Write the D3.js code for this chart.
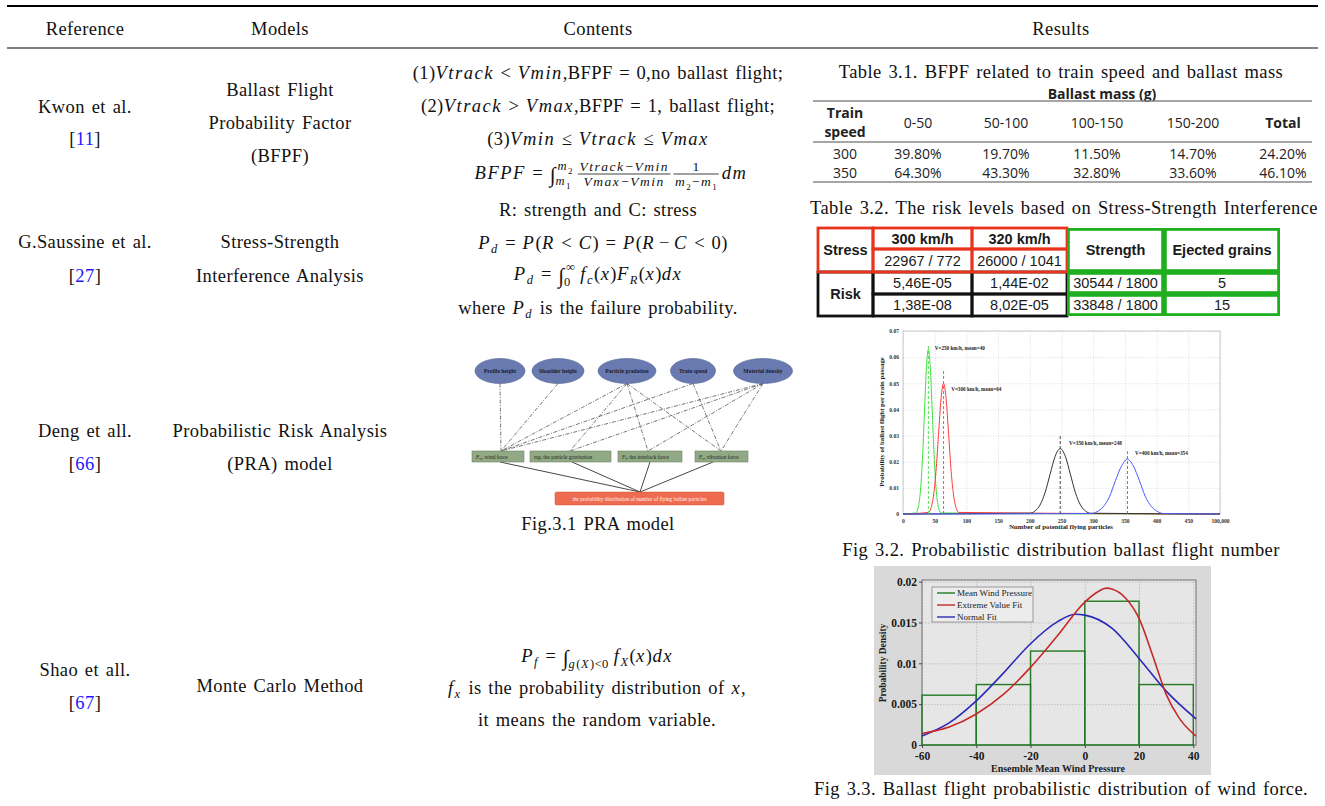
<!DOCTYPE html>
<html><head><meta charset="utf-8">
<script src="https://cdn.jsdelivr.net/npm/d3@7"></script>
<style>body{margin:0;background:#fff}svg{display:block}text{white-space:pre}</style>
</head><body>
<svg id="c" width="1325" height="806"></svg>
<script>
// ===================== DATA =====================
const headers = ["Reference", "Models", "Contents", "Results"];
const refNames = ["Kwon et al.", "G.Saussine et al.", "Deng et all.", "Shao et all."];
const refNumbers = ["11", "27", "66", "67"];
const modelLines = [["Ballast Flight", "Probability Factor", "(BFPF)"], ["Stress-Strength", "Interference Analysis"], ["Probabilistic Risk Analysis", "(PRA) model"], ["Monte Carlo Method"]];
const captions = ["Table 3.1. BFPF related to train speed and ballast mass", "Table 3.2. The risk levels based on Stress-Strength Interference", "Fig.3.1 PRA model", "Fig 3.2. Probabilistic distribution ballast flight number", "Fig 3.3. Ballast flight probabilistic distribution of wind force."];

const t31Title = "Ballast mass (g)";
const t31RowHead = ["Train", "speed"];
const t31Columns = ["0-50", "50-100", "100-150", "150-200", "Total"];
const t31Speeds = ["300", "350"];
const t31Values = [["39.80%", "19.70%", "11.50%", "14.70%", "24.20%"], ["64.30%", "43.30%", "32.80%", "33.60%", "46.10%"]];

const t32Speeds = ["300 km/h", "320 km/h"];
const t32Stress = ["22967 / 772", "26000 / 1041"];
const t32Risk = [["5,46E-05", "1,44E-02"], ["1,38E-08", "8,02E-05"]];
const t32Strength = ["30544 / 1800", "33848 / 1800"];
const t32Ejected = ["5", "15"];

const praFactors = ["Profile height", "Shoulder height", "Particle gradation", "Train speed", "Material density"];
const praForces = [["F", "w", ", wind force"], ["mg", "", ", the particle gravitation"], ["F", "I", ", the interlock force"], ["F", "v", ", vibration force"]];
const praLinks = [[0, 0], [1, 0], [2, 0], [2, 1], [2, 2], [2, 3], [3, 0], [3, 3], [4, 0], [4, 1], [4, 2], [4, 3]];
const praOutcome = "the probability distribution of number of flying ballast particles";

const f32XTicks = [0, 50, 100, 150, 200, 250, 300, 350, 400, 450, 500];
const f32XTickLabels = ["0", "50", "100", "150", "200", "250", "300", "350", "400", "450", "100,000"];
const f32YTicks = [0, 0.01, 0.02, 0.03, 0.04, 0.05, 0.06, 0.07];
const f32Green = [[0,0],[20,0.0004],[24,0.0025],[28,0.0103],[31,0.0227],[34,0.040],[37,0.0563],[40,0.063],[43,0.0563],[46,0.040],[49,0.0227],[52,0.0103],[56,0.0025],[60,0.0004],[500,0]];
const f32Red = [[0,0],[40,0.0006],[44,0.0022],[48,0.0068],[52,0.0162],[56,0.0303],[60,0.0441],[64,0.050],[68,0.0441],[72,0.0303],[76,0.0162],[80,0.0068],[84,0.0022],[88,0.0006],[500,0]];
const f32Black = [[0,0],[200,0.0003],[208,0.0011],[216,0.0034],[224,0.0081],[232,0.0152],[240,0.0221],[248,0.025],[256,0.0221],[264,0.0152],[272,0.0081],[280,0.0034],[288,0.0011],[296,0.0003],[500,0]];
const f32Blue = [[0,0],[298,0.0002],[306,0.0009],[316,0.0028],[326,0.0068],[335,0.0127],[345,0.0185],[354,0.021],[363,0.0185],[373,0.0127],[382,0.0068],[392,0.0028],[402,0.0009],[410,0.0002],[500,0]];
const f32Labels = ["V=250 km/h, mean=40", "V=300 km/h, mean=64", "V=350 km/h, mean=248", "V=400 km/h, mean=354"];
const f32Means = [40, 64, 248, 354];
const f32MeanLineTop = [0.065, 0.055, 0.030, 0.024];
const f32LabelAt = [[50, 0.0635], [76, 0.048], [262, 0.0272], [366, 0.0233]];
const f32XLabel = "Number of potential flying particles";
const f32YLabel = "Probability of ballast flight per train passage";

const f33BinEdges = [-60, -40, -20, 0, 20, 40];
const f33Hist = [0.0061, 0.0074, 0.0115, 0.0176, 0.0074];
const f33Extreme = [[-60,0.0014],[-50,0.0022],[-40,0.0038],[-30,0.0062],[-20,0.0095],[-10,0.0134],[0,0.0175],[5,0.0188],[8,0.0192],[10,0.0191],[15,0.0180],[20,0.0155],[25,0.0110],[30,0.0062],[35,0.0032],[41,0.0011]];
const f33Normal = [[-60,0.0011],[-50,0.0027],[-40,0.0054],[-30,0.0088],[-20,0.0124],[-10,0.0151],[-3.5,0.0160],[0,0.0159],[10,0.0143],[20,0.0106],[30,0.0066],[41,0.0032]];
const f33XTicks = [-60, -40, -20, 0, 20, 40];
const f33YTicks = [0, 0.005, 0.01, 0.015, 0.02];
const f33YTickLabels = ["0", "0.005", "0.01", "0.015", "0.02"];
const f33Legend = ["Mean Wind Pressure", "Extreme Value Fit", "Normal Fit"];
const f33XLabel = "Ensemble Mean Wind Pressure";
const f33YLabel = "Probability Density";

// ===================== DRAWING =====================
const svg = d3.select("#c");
const SERIF = "'Liberation Serif','Times New Roman',serif";
const OPEN = "'Open Sans','Liberation Sans',sans-serif";
const ARIAL = "'Liberation Sans',Arial,sans-serif";
const FS = 18.5;

function txt(p, x, y, s, o = {}) {
  const t = p.append("text").attr("x", x).attr("y", y).text(s)
    .attr("font-family", o.ff || SERIF).attr("font-size", o.fs || FS)
    .attr("font-weight", o.fw || "normal").attr("font-style", o.it ? "italic" : "normal")
    .attr("text-anchor", o.a || "middle").attr("fill", o.fill || "#111");
  if (o.doc) t.attr("letter-spacing", 0.4).attr("word-spacing", 1.8);
  return t;
}
const D = { doc: true };

// rules
svg.append("line").attr("x1", 7).attr("x2", 1318).attr("y1", 6).attr("y2", 6).attr("stroke", "#000").attr("stroke-width", 1.8);
svg.append("line").attr("x1", 7).attr("x2", 1318).attr("y1", 48).attr("y2", 48).attr("stroke", "#000").attr("stroke-width", 1.1);

const colX = [85, 280, 598, 1061];
headers.forEach((h, i) => txt(svg, colX[i], 35, h, D));

const refBase = [[113, 145], [248, 282], [437, 470], [676, 709]];
refNames.forEach((n, i) => {
  txt(svg, colX[0], refBase[i][0], n, D);
  const t = txt(svg, colX[0], refBase[i][1], "", D);
  t.append("tspan").text("[");
  t.append("tspan").attr("fill", "#1a1aff").text(refNumbers[i]);
  t.append("tspan").text("]");
});
const modelBase = [[96, 129, 162], [248, 282], [437, 470], [692]];
modelLines.forEach((ls, i) => ls.forEach((l, j) => txt(svg, colX[1], modelBase[i][j], l, D)));

// ---------- math layout ----------
const R = (t, o = {}) => Object.assign({ k: "t", t }, o);
const I = (t, o = {}) => Object.assign({ k: "t", t, i: true }, o);
const SUB = (t, it, sz = 12.5) => ({ k: "t", t, i: it, sz, dy: 4 });
const SP = w => ({ k: "sp", w });

function renderItems(g, items, size) {
  let x = 0;
  for (const it of items) {
    if (it.k === "sp") { x += it.w; continue; }
    if (it.k === "t") {
      const t = g.append("text").attr("x", x).attr("y", it.dy || 0).text(it.t)
        .attr("font-family", SERIF).attr("font-size", it.sz || size)
        .attr("font-style", it.i ? "italic" : "normal").attr("fill", "#111")
        .attr("letter-spacing", it.i ? 1.5 : 0.4).attr("word-spacing", 1.8);
      x += t.node().getComputedTextLength() + (it.after || 0);
      continue;
    }
    if (it.k === "frac") {
      const ng = g.append("g"), dg = g.append("g");
      const wn = renderItems(ng, it.num, it.sz), wd = renderItems(dg, it.den, it.sz);
      const w = Math.max(wn, wd) + 3;
      ng.attr("transform", `translate(${x + (w - wn) / 2},-8.5)`);
      dg.attr("transform", `translate(${x + (w - wd) / 2},6.5)`);
      g.append("line").attr("x1", x).attr("x2", x + w).attr("y1", -5).attr("y2", -5).attr("stroke", "#111").attr("stroke-width", 0.8);
      x += w + 3;
      continue;
    }
    if (it.k === "int") {
      const t = g.append("text").attr("x", x).attr("y", 3).text("∫").attr("font-family", SERIF)
        .attr("font-size", size * 1.15).attr("fill", "#111");
      const wI = t.node().getComputedTextLength();
      const hg = g.append("g"), lg = g.append("g");
      const wh = it.hi ? renderItems(hg, it.hi, 12.5) : 0;
      const wl = it.lo ? renderItems(lg, it.lo, 12.5) : 0;
      hg.attr("transform", `translate(${x + wI + 2},-9)`);
      lg.attr("transform", `translate(${x + wI},6)`);
      x += wI + Math.max(wh + 2, wl) + 5;
    }
  }
  return x;
}
function mathRow(cx, y, items, size = FS) {
  const g = svg.append("g");
  const w = renderItems(g, items, size);
  g.attr("transform", `translate(${cx - w / 2},${y})`);
}
const cC = 598, S = 6.5;
mathRow(cC, 79, [R("(1)"), I("Vtrack"), SP(S), R("<"), SP(S), I("Vmin"), R(",BFPF"), SP(S), R("="), SP(S), R("0,no ballast flight;")]);
mathRow(cC, 112, [R("(2)"), I("Vtrack"), SP(S), R(">"), SP(S), I("Vmax"), R(",BFPF"), SP(S), R("="), SP(S), R("1, ballast flight;")]);
mathRow(cC, 145, [R("(3)"), I("Vmin"), SP(S), R("≤"), SP(S), I("Vtrack"), SP(S), R("≤"), SP(S), I("Vmax")]);
mathRow(611, 179, [I("BFPF"), SP(S), R("="), SP(S),
  { k: "int", hi: [I("m"), SUB("2", false, 9)], lo: [I("m"), SUB("1", false, 9)] },
  { k: "frac", sz: 13.5, num: [I("Vtrack"), SP(1), R("−"), SP(1), I("Vmin")], den: [I("Vmax"), SP(1), R("−"), SP(1), I("Vmin")] },
  { k: "frac", sz: 13.5, num: [R("1")], den: [I("m"), SUB("2", false, 9), SP(1), R("−"), SP(1), I("m"), SUB("1", false, 9)] },
  I("dm")]);
mathRow(cC, 216, [R("R: strength and C: stress")]);
mathRow(603, 249, [I("P"), SUB("d", true), SP(S), R("="), SP(S), I("P"), R("("), I("R"), SP(S), R("<"), SP(S), I("C"), R(")"), SP(S), R("="), SP(S), I("P"), R("("), I("R"), SP(4), R("−"), SP(4), I("C"), SP(S), R("<"), SP(S), R("0)")]);
mathRow(cC, 280, [I("P"), SUB("d", true), SP(S), R("="), SP(S), { k: "int", hi: [R("∞")], lo: [R("0")] }, I("f"), SUB("c", true), R("("), I("x"), R(")"), I("F"), SUB("R", true), R("("), I("x"), R(")"), I("dx")]);
mathRow(cC, 314, [R("where "), I("P"), SUB("d", true), R(" is the failure probability.")]);
mathRow(597, 662, [I("P"), SUB("f", true), SP(S), R("="), SP(S), { k: "int", lo: [I("g"), R("("), I("X"), R(")<0")] }, I("f"), SUB("X", true), R("("), I("x"), R(")"), I("dx")]);
mathRow(597, 694, [I("f"), SUB("x", true), R(" is the probability distribution of "), I("x"), R(",")]);
mathRow(597, 726, [R("it means the random variable.")]);

// captions
txt(svg, 1061, 78, captions[0], D);
txt(svg, 1064, 214, captions[1], D);
txt(svg, 598, 530, captions[2], D);
txt(svg, 1061, 556, captions[3], D);
txt(svg, 1061, 795, captions[4], D);

// ---------- Table 3.1 ----------
const t31 = svg.append("g");
const t31X = [918, 1006, 1097, 1193, 1283], t31First = 845;
const O = { ff: OPEN, fs: 14, fill: "#222" }, OB = Object.assign({}, O, { fw: "bold" });
txt(t31, 1102, 99, t31Title, OB);
[101, 142, 182].forEach(y => t31.append("line").attr("x1", 813).attr("x2", 1312).attr("y1", y).attr("y2", y).attr("stroke", "#888").attr("stroke-width", 1.5));
txt(t31, t31First, 118, t31RowHead[0], OB);
txt(t31, t31First, 137, t31RowHead[1], OB);
t31Columns.forEach((c, i) => txt(t31, t31X[i], 128, c, i === 4 ? OB : O));
t31Speeds.forEach((s, r) => {
  const y = [159, 178][r];
  txt(t31, t31First, y, s, O);
  t31Values[r].forEach((v, i) => txt(t31, t31X[i], y, v, O));
});

// ---------- Table 3.2 ----------
const t32 = svg.append("g");
const cx = [818, 873, 972, 1067, 1164, 1280], ry = [228, 249, 272, 294, 316];
function cell(c0, c1, r0, r1, col, inset = 0) {
  t32.append("rect").attr("x", cx[c0] + inset).attr("y", ry[r0] + inset)
    .attr("width", cx[c1] - cx[c0] - 2 * inset).attr("height", ry[r1] - ry[r0] - 2 * inset)
    .attr("fill", "none").attr("stroke", col).attr("stroke-width", 2.8);
}
cell(0, 1, 2, 4, "#111"); cell(1, 2, 2, 3, "#111"); cell(2, 3, 2, 3, "#111"); cell(1, 2, 3, 4, "#111"); cell(2, 3, 3, 4, "#111");
cell(0, 1, 0, 2, "#e8341c"); cell(1, 2, 0, 1, "#e8341c"); cell(2, 3, 0, 1, "#e8341c"); cell(1, 2, 1, 2, "#e8341c"); cell(2, 3, 1, 2, "#e8341c");
cell(3, 4, 0, 2, "#1fae1f", 1.4); cell(4, 5, 0, 2, "#1fae1f", 1.4);
cell(3, 4, 2, 3, "#1fae1f", 1.4); cell(4, 5, 2, 3, "#1fae1f", 1.4); cell(3, 4, 3, 4, "#1fae1f", 1.4); cell(4, 5, 3, 4, "#1fae1f", 1.4);
const mid = (a, b) => (a + b) / 2;
const A = { ff: ARIAL, fs: 14.5, fill: "#1a1a1a" }, AB = Object.assign({}, A, { fw: "bold" });
txt(t32, mid(cx[0], cx[1]), mid(ry[0], ry[2]) + 5, "Stress", AB);
t32Speeds.forEach((s, i) => txt(t32, mid(cx[i + 1], cx[i + 2]), mid(ry[0], ry[1]) + 5, s, AB));
t32Stress.forEach((s, i) => txt(t32, mid(cx[i + 1], cx[i + 2]), mid(ry[1], ry[2]) + 5, s, A));
txt(t32, mid(cx[3], cx[4]), mid(ry[0], ry[2]) + 5, "Strength", AB);
txt(t32, mid(cx[4], cx[5]), mid(ry[0], ry[2]) + 5, "Ejected grains", AB);
txt(t32, mid(cx[0], cx[1]), mid(ry[2], ry[4]) + 5, "Risk", AB);
t32Risk.forEach((row, r) => row.forEach((v, i) => txt(t32, mid(cx[i + 1], cx[i + 2]), mid(ry[r + 2], ry[r + 3]) + 5, v, A)));
t32Strength.forEach((v, r) => txt(t32, mid(cx[3], cx[4]), mid(ry[r + 2], ry[r + 3]) + 5, v, A));
t32Ejected.forEach((v, r) => txt(t32, mid(cx[4], cx[5]), mid(ry[r + 2], ry[r + 3]) + 5, v, A));

// ---------- PRA diagram ----------
const pra = svg.append("g");
const ex = [500, 558, 627, 693, 763], erx = [25, 26, 29, 22.5, 29.5], ey = 371, ery = 12.5;
const fx0 = [472, 530, 618, 695], fx1 = [524, 611, 682, 748], fy0 = 451, fy1 = 462;
const fTop = [501, 570, 648, 721], fBot = [500, 572, 650, 713];
praLinks.forEach(([a, b]) => pra.append("line").attr("x1", ex[a]).attr("y1", ey + ery).attr("x2", fTop[b]).attr("y2", fy0)
  .attr("stroke", "#555").attr("stroke-width", 0.8).attr("stroke-dasharray", "4,1.5,1,1.5"));
fBot.forEach(x => pra.append("line").attr("x1", x).attr("y1", fy1).attr("x2", 640).attr("y2", 492).attr("stroke", "#333").attr("stroke-width", 0.9));
praFactors.forEach((f, i) => {
  pra.append("ellipse").attr("cx", ex[i]).attr("cy", ey).attr("rx", erx[i]).attr("ry", ery).attr("fill", "#687ab0").attr("stroke", "#4e5f92").attr("stroke-width", 0.6);
  txt(pra, ex[i], ey + 2, f, { fs: 5.6, fw: "bold", fill: "#1b1b2b" });
});
praForces.forEach((f, i) => {
  pra.append("rect").attr("x", fx0[i]).attr("y", fy0).attr("width", fx1[i] - fx0[i]).attr("height", fy1 - fy0).attr("fill", "#92a985").attr("stroke", "#6f8763").attr("stroke-width", 0.6);
  const t = txt(pra, fx0[i] + 4, fy1 - 3.5, "", { fs: 5.4, a: "start", fill: "#1e261a" });
  t.append("tspan").attr("font-style", "italic").text(f[0]);
  if (f[1]) t.append("tspan").attr("font-style", "italic").attr("font-size", 3.8).attr("dy", 1.2).text(f[1]);
  t.append("tspan").attr("dy", f[1] ? -1.2 : 0).text(f[2]);
});
pra.append("rect").attr("x", 555).attr("y", 492).attr("width", 169).attr("height", 13).attr("rx", 1.5).attr("fill", "#ee6b4f").attr("stroke", "#d9563c").attr("stroke-width", 0.5);
txt(pra, 639.5, 501, praOutcome, { fs: 5.3, fill: "#fff4ee" });

// ---------- Fig 3.2 ----------
const g32 = svg.append("g");
const x32 = d3.scaleLinear().domain([0, 500]).range([903, 1220]);
const y32 = d3.scaleLinear().domain([0, 0.07]).range([514, 331]);
g32.append("rect").attr("x", 903).attr("y", 331).attr("width", 317).attr("height", 183).attr("fill", "#fff");
g32.append("g").attr("transform", "translate(0,514)").call(d3.axisBottom(x32).tickValues(f32XTicks).tickSize(-183).tickFormat(""))
  .call(a => { a.select(".domain").remove(); a.selectAll("line").attr("stroke", "#c8c8c8").attr("stroke-width", 0.6).attr("stroke-dasharray", "1,1.5"); });
g32.append("g").attr("transform", "translate(903,0)").call(d3.axisLeft(y32).tickValues(f32YTicks).tickSize(-317).tickFormat(""))
  .call(a => { a.select(".domain").remove(); a.selectAll("line").attr("stroke", "#c8c8c8").attr("stroke-width", 0.6).attr("stroke-dasharray", "1,1.5"); });
g32.append("rect").attr("x", 903).attr("y", 331).attr("width", 317).attr("height", 183).attr("fill", "none").attr("stroke", "#b5b5b5").attr("stroke-width", 0.7);
const ax32 = g32.append("g").attr("transform", "translate(0,514)").call(d3.axisBottom(x32).tickValues(f32XTicks).tickSize(0).tickPadding(5).tickFormat((d, i) => f32XTickLabels[i]));
const ay32 = g32.append("g").attr("transform", "translate(903,0)").call(d3.axisLeft(y32).tickValues(f32YTicks).tickSize(0).tickPadding(4).tickFormat(d => d === 0 ? "0" : d3.format(".2f")(d)));
[ax32, ay32].forEach(a => { a.select(".domain").remove(); a.selectAll("text").attr("font-family", SERIF).attr("font-size", 5.6).attr("font-weight", "bold").attr("fill", "#333"); });
const line32 = d3.line().x(d => x32(d[0])).y(d => y32(d[1])).curve(d3.curveMonotoneX);
const cols32 = ["#3ee03e", "#ff3a3a", "#333333", "#4a5cff"];
[f32Green, f32Red, f32Black, f32Blue].forEach((s, i) => g32.append("path").attr("d", line32(s)).attr("fill", "none").attr("stroke", cols32[i]).attr("stroke-width", 1));
f32Means.forEach((m, i) => g32.append("line").attr("x1", x32(m)).attr("x2", x32(m)).attr("y1", y32(0)).attr("y2", y32(f32MeanLineTop[i]))
  .attr("stroke", cols32[i]).attr("stroke-width", 0.9).attr("stroke-dasharray", "3,2"));
f32Labels.forEach((l, i) => txt(g32, x32(f32LabelAt[i][0]), y32(f32LabelAt[i][1]) + 2, l, { fs: 5.2, fw: "bold", a: "start", fill: "#222" }));
txt(g32, 1061, 529, f32XLabel, { fs: 6.8, fw: "bold", fill: "#222" });
txt(g32, 0, 0, f32YLabel, { fs: 6.8, fw: "bold", fill: "#222" }).attr("transform", "translate(884,422) rotate(-90)");

// ---------- Fig 3.3 ----------
const g33 = svg.append("g");
g33.append("rect").attr("x", 874).attr("y", 566).attr("width", 337).attr("height", 209).attr("fill", "#d9d9d9");
const x33 = d3.scaleLinear().domain([-60, 41]).range([922, 1196]);
const y33 = d3.scaleLinear().domain([0, 0.0202]).range([745, 580]);
g33.append("rect").attr("x", 922).attr("y", 580).attr("width", 274).attr("height", 165).attr("fill", "#e6e6e6");
g33.append("g").attr("transform", "translate(0,745)").call(d3.axisBottom(x33).tickValues(f33XTicks).tickSize(-165).tickFormat(""))
  .call(a => { a.select(".domain").remove(); a.selectAll("line").attr("stroke", "#b0b0b0").attr("stroke-width", 0.7).attr("stroke-dasharray", "1.5,1.5"); });
g33.append("g").attr("transform", "translate(922,0)").call(d3.axisLeft(y33).tickValues(f33YTicks).tickSize(-274).tickFormat(""))
  .call(a => { a.select(".domain").remove(); a.selectAll("line").attr("stroke", "#b0b0b0").attr("stroke-width", 0.7).attr("stroke-dasharray", "1.5,1.5"); });
g33.append("rect").attr("x", 922).attr("y", 580).attr("width", 274).attr("height", 165).attr("fill", "none").attr("stroke", "#555").attr("stroke-width", 0.8);
const ax33 = g33.append("g").attr("transform", "translate(0,745)").call(d3.axisBottom(x33).tickValues(f33XTicks).tickSize(3).tickPadding(2).tickFormat(d => String(d)));
const ay33 = g33.append("g").attr("transform", "translate(922,0)").call(d3.axisLeft(y33).tickValues(f33YTicks).tickSize(3).tickPadding(2).tickFormat((d, i) => f33YTickLabels[i]));
[ax33, ay33].forEach(a => { a.select(".domain").remove(); a.selectAll("line").attr("stroke", "#444"); a.selectAll("text").attr("font-family", SERIF).attr("font-size", 11.5).attr("font-weight", "bold").attr("fill", "#1a1a1a"); });
ax33.selectAll("text").attr("dy", "0.85em");
f33Hist.forEach((h, i) => g33.append("rect").attr("x", x33(f33BinEdges[i])).attr("y", y33(h)).attr("width", x33(f33BinEdges[i + 1]) - x33(f33BinEdges[i])).attr("height", y33(0) - y33(h))
  .attr("fill", "none").attr("stroke", "#237a23").attr("stroke-width", 1.4));
const line33 = d3.line().x(d => x33(d[0])).y(d => y33(d[1])).curve(d3.curveMonotoneX);
g33.append("path").attr("d", line33(f33Normal)).attr("fill", "none").attr("stroke", "#2a2ab8").attr("stroke-width", 1.6);
g33.append("path").attr("d", line33(f33Extreme)).attr("fill", "none").attr("stroke", "#c42a2a").attr("stroke-width", 1.6);
// legend
g33.append("rect").attr("x", 932).attr("y", 587).attr("width", 101).attr("height", 35).attr("fill", "#ececec").attr("stroke", "#666").attr("stroke-width", 0.6);
const legCols = ["#237a23", "#c42a2a", "#2a2ab8"];
f33Legend.forEach((l, i) => {
  const y = 593 + i * 12;
  g33.append("line").attr("x1", 937).attr("x2", 955).attr("y1", y).attr("y2", y).attr("stroke", legCols[i]).attr("stroke-width", 1.4);
  txt(g33, 957, y + 3, l, { fs: 9, a: "start", fill: "#222" });
});
txt(g33, 1058, 772, f33XLabel, { fs: 10, fw: "bold", fill: "#222" });
txt(g33, 0, 0, f33YLabel, { fs: 9.5, fw: "bold", fill: "#222" }).attr("transform", "translate(886,663) rotate(-90)");
</script>
</body></html>
